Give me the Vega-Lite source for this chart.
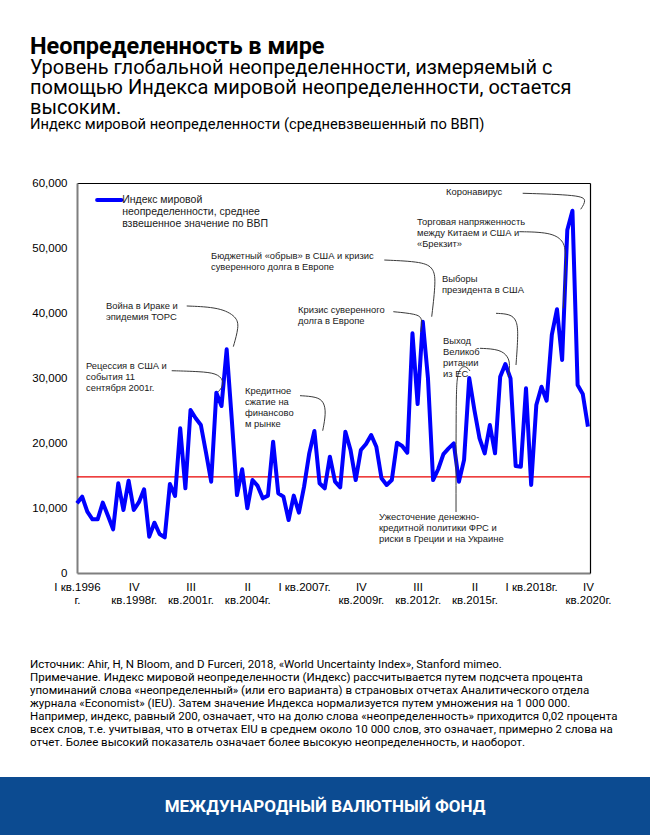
{
  "$schema": "https://vega.github.io/schema/vega-lite/v6.json",
  "padding": {"top": 34, "left": 0, "right": 0, "bottom": 0},
  "autosize": {"type": "pad"},
  "background": "white",
  "title": {
    "text": "Неопределенность в мире",
    "subtitle": ["Уровень глобальной неопределенности, измеряемый с", "помощью Индекса мировой неопределенности, остается", "высоким."],
    "anchor": "start", "dx": 30, "offset": -1,
    "font": "Roboto", "fontSize": 23.5, "fontWeight": "bold", "color": "#000000",
    "subtitleFont": "Roboto", "subtitleFontSize": 20, "subtitleLineHeight": 20, "subtitleColor": "#000000", "subtitlePadding": 0
  },
  "vconcat": [
    {
      "width": 590,
      "height": 390,
      "title": {
        "text": "Индекс мировой неопределенности (средневзвешенный по ВВП)",
        "anchor": "start", "frame": "group", "dx": 30, "offset": 45,
        "font": "Roboto", "fontSize": 14.7, "fontWeight": "normal", "color": "#000000"
      },
      "layer": [
        {
          "data": {"values": [{"from": 0, "to": 99.4, "v": 14800}]},
          "mark": {"type": "rule", "color": "#e80000", "strokeWidth": 1.2},
          "encoding": {
            "x": {"field": "from", "type": "quantitative", "axis": {"orient": "top", "title": null, "labels": false, "ticks": false, "grid": false, "domainColor": "#000000", "domainWidth": 1.2}},
            "x2": {"field": "to"},
            "y": {"field": "v", "type": "quantitative", "axis": null}
          }
        },
        {
          "data": {"values": [
            {"i": 0, "v": 10720}, {"i": 1, "v": 11740}, {"i": 2, "v": 9430}, {"i": 3, "v": 8260}, {"i": 4, "v": 8260},
            {"i": 5, "v": 10820}, {"i": 6, "v": 8800}, {"i": 7, "v": 6720}, {"i": 8, "v": 13800}, {"i": 9, "v": 9690},
            {"i": 10, "v": 14200}, {"i": 11, "v": 9690}, {"i": 12, "v": 10900}, {"i": 13, "v": 12880}, {"i": 14, "v": 5590},
            {"i": 15, "v": 7740}, {"i": 16, "v": 6000}, {"i": 17, "v": 5490}, {"i": 18, "v": 13690}, {"i": 19, "v": 11850},
            {"i": 20, "v": 22260}, {"i": 21, "v": 13030}, {"i": 22, "v": 25080}, {"i": 23, "v": 23800}, {"i": 24, "v": 22770},
            {"i": 25, "v": 18500}, {"i": 26, "v": 14050}, {"i": 27, "v": 27740}, {"i": 28, "v": 25690}, {"i": 29, "v": 34410},
            {"i": 30, "v": 23500}, {"i": 31, "v": 12000}, {"i": 32, "v": 15950}, {"i": 33, "v": 9950}, {"i": 34, "v": 14300},
            {"i": 35, "v": 13400}, {"i": 36, "v": 11490}, {"i": 37, "v": 11900}, {"i": 38, "v": 20200}, {"i": 39, "v": 12260},
            {"i": 40, "v": 11740}, {"i": 41, "v": 8150}, {"i": 42, "v": 11900}, {"i": 43, "v": 9280}, {"i": 44, "v": 13280},
            {"i": 45, "v": 18410}, {"i": 46, "v": 21850}, {"i": 47, "v": 13800}, {"i": 48, "v": 13030}, {"i": 49, "v": 17900},
            {"i": 50, "v": 14050}, {"i": 51, "v": 13180}, {"i": 52, "v": 21740}, {"i": 53, "v": 18920}, {"i": 54, "v": 14300},
            {"i": 55, "v": 18920}, {"i": 56, "v": 19850}, {"i": 57, "v": 21230}, {"i": 58, "v": 19430}, {"i": 59, "v": 14570},
            {"i": 60, "v": 13540}, {"i": 61, "v": 14300}, {"i": 62, "v": 20050}, {"i": 63, "v": 19540}, {"i": 64, "v": 18510},
            {"i": 65, "v": 36880}, {"i": 66, "v": 26000}, {"i": 67, "v": 38660}, {"i": 68, "v": 30000}, {"i": 69, "v": 14300},
            {"i": 70, "v": 16000}, {"i": 71, "v": 18300}, {"i": 72, "v": 19180}, {"i": 73, "v": 19950}, {"i": 74, "v": 14050},
            {"i": 75, "v": 17400}, {"i": 76, "v": 30000}, {"i": 77, "v": 25080}, {"i": 78, "v": 20720}, {"i": 79, "v": 18410},
            {"i": 80, "v": 22770}, {"i": 81, "v": 18410}, {"i": 82, "v": 30200}, {"i": 83, "v": 32150}, {"i": 84, "v": 29950},
            {"i": 85, "v": 16460}, {"i": 86, "v": 16350}, {"i": 87, "v": 28410}, {"i": 88, "v": 13540}, {"i": 89, "v": 25850},
            {"i": 90, "v": 28660}, {"i": 91, "v": 26510}, {"i": 92, "v": 36620}, {"i": 93, "v": 40570}, {"i": 94, "v": 32770},
            {"i": 95, "v": 52770}, {"i": 96, "v": 55740}, {"i": 97, "v": 28920}, {"i": 98, "v": 27540}, {"i": 99, "v": 22510}
          ]},
          "mark": {"type": "line", "color": "#0000ff", "strokeWidth": 4, "strokeJoin": "round"},
          "encoding": {
            "x": {
              "field": "i", "type": "quantitative",
              "scale": {"domain": [0, 99.4], "range": [77, 590], "nice": false, "zero": false},
              "axis": {
                "orient": "bottom", "title": null, "values": [0, 11, 22, 33, 44, 55, 66, 77, 88, 99],
                "labelExpr": "split(['I кв.1996|г.','IV|кв.1998г.','III|кв.2001г.','II|кв.2004г.','I кв.2007г.','IV|кв.2009г.','III|кв.2012г.','II|кв.2015г.','I кв.2018г.','IV|кв.2020г.'][round(datum.value/11)], '|')",
                "ticks": false, "grid": false, "domainColor": "#7f7f7f", "domainWidth": 2,
                "labelFont": "Liberation Sans", "labelFontSize": 11.5, "labelColor": "#000000",
                "labelPadding": 8, "labelLineHeight": 13, "labelFlush": false, "labelOverlap": false
              }
            },
            "y": {
              "field": "v", "type": "quantitative",
              "scale": {"domain": [0, 60000], "nice": false},
              "axis": {
                "orient": "left", "offset": -77, "title": null, "values": [0, 10000, 20000, 30000, 40000, 50000, 60000], "format": ",d",
                "ticks": false, "grid": false, "domainColor": "#7f7f7f", "domainWidth": 2,
                "labelFont": "Liberation Sans", "labelFontSize": 11.5, "labelColor": "#000000",
                "labelPadding": 10
              }
            }
          }
        },
        {
          "data": {"values": [{"i": 3.9, "v": 57400}, {"i": 8.6, "v": 57400}]},
          "mark": {"type": "line", "color": "#0000ff", "strokeWidth": 4, "strokeCap": "round"},
          "encoding": {
            "x": {"field": "i", "type": "quantitative", "axis": null},
            "y": {"field": "v", "type": "quantitative", "axis": {"orient": "right", "title": null, "labels": false, "ticks": false, "grid": false, "domainColor": "#000000", "domainWidth": 1.2}}
          }
        },
        {
          "data": {"values": [
            {"id": "L1", "k": 0, "i": 21.26, "v": 41080}, {"id": "L1", "k": 1, "i": 27.71, "v": 40870}, {"id": "L1", "k": 2, "i": 30.94, "v": 39430}, {"id": "L1", "k": 3, "i": 31.39, "v": 37890}, {"id": "L1", "k": 4, "i": 30.29, "v": 34820},
            {"id": "L2", "k": 0, "i": 18.35, "v": 31120}, {"id": "L2", "k": 1, "i": 23.83, "v": 31000}, {"id": "L2", "k": 2, "i": 27.07, "v": 30720}, {"id": "L2", "k": 3, "i": 28.35, "v": 29690}, {"id": "L2", "k": 4, "i": 28.23, "v": 28660}, {"id": "L2", "k": 5, "i": 27.38, "v": 27890},
            {"id": "L3", "k": 0, "i": 43.21, "v": 27280}, {"id": "L3", "k": 1, "i": 46.44, "v": 27120}, {"id": "L3", "k": 2, "i": 47.86, "v": 26350}, {"id": "L3", "k": 3, "i": 48.25, "v": 24570}, {"id": "L3", "k": 4, "i": 47.61, "v": 21890},
            {"id": "L4", "k": 0, "i": 59.54, "v": 48150}, {"id": "L4", "k": 1, "i": 67.10, "v": 47890}, {"id": "L4", "k": 2, "i": 69.04, "v": 46880}, {"id": "L4", "k": 3, "i": 69.56, "v": 45080}, {"id": "L4", "k": 4, "i": 68.73, "v": 39430},
            {"id": "L5", "k": 0, "i": 61.29, "v": 40200}, {"id": "L5", "k": 1, "i": 65.82, "v": 39850}, {"id": "L5", "k": 2, "i": 66.98, "v": 39190}, {"id": "L5", "k": 3, "i": 66.60, "v": 37120},
            {"id": "L6", "k": 0, "i": 81.19, "v": 39950}, {"id": "L6", "k": 1, "i": 83.90, "v": 39850}, {"id": "L6", "k": 2, "i": 85.20, "v": 38920}, {"id": "L6", "k": 3, "i": 85.51, "v": 36880}, {"id": "L6", "k": 4, "i": 85.06, "v": 32000},
            {"id": "L7", "k": 0, "i": 78.09, "v": 34570}, {"id": "L7", "k": 1, "i": 81.96, "v": 34420}, {"id": "L7", "k": 2, "i": 83.57, "v": 33280}, {"id": "L7", "k": 3, "i": 83.90, "v": 32000}, {"id": "L7", "k": 4, "i": 83.57, "v": 30200},
            {"id": "L8", "k": 0, "i": 85.70, "v": 52510}, {"id": "L8", "k": 1, "i": 91.65, "v": 52420}, {"id": "L8", "k": 2, "i": 94.23, "v": 51230}, {"id": "L8", "k": 3, "i": 94.88, "v": 49190}, {"id": "L8", "k": 4, "i": 94.23, "v": 40720},
            {"id": "L9", "k": 0, "i": 86.36, "v": 58420}, {"id": "L9", "k": 1, "i": 97.46, "v": 58150}, {"id": "L9", "k": 2, "i": 98.76, "v": 57390}, {"id": "L9", "k": 3, "i": 97.60, "v": 55960},
            {"id": "L10", "k": 0, "i": 73.44, "v": 9380}, {"id": "L10", "k": 1, "i": 73.44, "v": 26620}, {"id": "L10", "k": 2, "i": 73.63, "v": 30460}, {"id": "L10", "k": 3, "i": 74.40, "v": 31690}, {"id": "L10", "k": 4, "i": 75.37, "v": 31850}, {"id": "L10", "k": 5, "i": 76.15, "v": 31080}
          ]},
          "mark": {"type": "line", "interpolate": "basis", "color": "#3a3a3a", "strokeWidth": 1},
          "encoding": {
            "x": {"field": "i", "type": "quantitative", "axis": null},
            "y": {"field": "v", "type": "quantitative", "axis": null},
            "detail": {"field": "id"},
            "order": {"field": "k"}
          }
        },
        {
          "data": {"values": [
            {"i": 5.62, "v": 41740, "label": "Война в Ираке и\nэпидемия ТОРС"},
            {"i": 1.74, "v": 32510, "label": "Рецессия в США и\nсобытия 11\nсентября 2001г."},
            {"i": 32.55, "v": 28660, "label": "Кредитное\nсжатие на\nфинансово\nм рынке"},
            {"i": 25.96, "v": 49430, "label": "Бюджетный «обрыв» в США и кризис\nсуверенного долга в Европе"},
            {"i": 42.82, "v": 41120, "label": "Кризис суверенного\nдолга в Европе"},
            {"i": 70.72, "v": 45900, "label": "Выборы\nпрезидента в США"},
            {"i": 70.92, "v": 36350, "label": "Выход\nВеликоб\nритании\nиз ЕС"},
            {"i": 65.88, "v": 54660, "label": "Торговая напряженность\nмежду Китаем и США и\n«Брекзит»"},
            {"i": 71.50, "v": 59280, "label": "Коронавирус"},
            {"i": 58.52, "v": 9280, "label": "Ужесточение денежно-\nкредитной политики ФРС и\nриски в Греции и на Украине"}
          ]},
          "mark": {"type": "text", "align": "left", "baseline": "top", "font": "Liberation Sans", "fontSize": 9.4, "lineHeight": 11, "lineBreak": "\n", "color": "#1a1a1a"},
          "encoding": {
            "x": {"field": "i", "type": "quantitative", "axis": null},
            "y": {"field": "v", "type": "quantitative", "axis": null},
            "text": {"field": "label"}
          }
        },
        {
          "data": {"values": [{"i": 8.75, "v": 58230, "label": "Индекс мировой\nнеопределенности, среднее\nвзвешенное значение по ВВП"}]},
          "mark": {"type": "text", "align": "left", "baseline": "top", "font": "Liberation Sans", "fontSize": 10.5, "lineHeight": 12, "lineBreak": "\n", "color": "#1a1a1a"},
          "encoding": {
            "x": {"field": "i", "type": "quantitative", "axis": null},
            "y": {"field": "v", "type": "quantitative", "axis": null},
            "text": {"field": "label"}
          }
        }
      ]
    },
    {
      "width": 650,
      "height": 60,
      "view": {"fill": "#0c4b91", "stroke": null},
      "title": {
        "text": [
          "Источник: Ahir, H, N Bloom, and D Furceri, 2018, «World Uncertainty Index», Stanford mimeo.",
          "Примечание. Индекс мировой неопределенности (Индекс) рассчитывается путем подсчета процента",
          "упоминаний слова «неопределенный» (или его варианта) в страновых отчетах Аналитического отдела",
          "журнала «Economist» (IEU). Затем значение Индекса нормализуется путем умножения на 1 000 000.",
          "Например, индекс, равный 200, означает, что на долю слова «неопределенность» приходится 0,02 процента",
          "всех слов, т.е. учитывая, что в отчетах EIU в среднем около 10 000 слов, это означает, примерно 2 слова на",
          "отчет. Более высокий показатель означает более высокую неопределенность, и наоборот."
        ],
        "anchor": "start", "frame": "group", "dx": 30, "offset": 29,
        "font": "Roboto", "fontSize": 11.5, "fontWeight": "normal", "lineHeight": 13, "color": "#000000"
      },
      "data": {"values": [{"name": "МЕЖДУНАРОДНЫЙ ВАЛЮТНЫЙ ФОНД"}]},
      "mark": {"type": "text", "color": "#ffffff", "font": "Roboto", "fontWeight": "bold", "fontSize": 17, "align": "center", "baseline": "middle"},
      "encoding": {"text": {"field": "name"}}
    }
  ],
  "spacing": 52,
  "config": {"view": {"stroke": null}}
}
